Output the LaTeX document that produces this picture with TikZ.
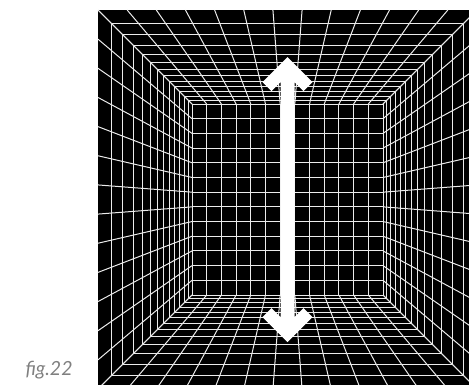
\documentclass[tikz,border=0pt]{standalone}
\usepackage{fontspec}
\setmainfont{Lato}
\usepackage{tikz}
\usetikzlibrary{calc}

\begin{document}
\begin{tikzpicture}[x=1pt, y=-1pt,
    gridline/.style={white!92!black, line width=1pt},
    figlabel/.style={black!50, font=\fontsize{19.5}{22}\selectfont\itshape, anchor=base west}]
    \useasboundingbox (0,0) rectangle (469,384);
    % room centre, front half-size, back half-size
    \def\cx{287.5}
    \def\cy{199.5}
    \def\R{189.5}
    \def\r{95.5}
    \begin{scope}
        \clip (0,0) rectangle (469,384);
        % Black room
        \fill[black] (\cx-\R,\cy-\R) rectangle (\cx+\R,\cy+\R);
        % Back wall grid
        \foreach \i in {0,...,13}
        {
            \draw[gridline] ({\cx-\r+\i*2*\r/13},\cy-\r) -- ({\cx-\r+\i*2*\r/13},\cy+\r);
            \draw[gridline] (\cx-\r,{\cy-\r+\i*2*\r/13}) -- (\cx+\r,{\cy-\r+\i*2*\r/13});
        }
        % Receding lines on walls, ceiling and floor
        \foreach \i in {0,...,13}
        {
            \pgfmathsetmacro\u{-1+2*\i/13}
            \draw[gridline] (\cx-\R,{\cy+\u*\R}) -- (\cx-\r,{\cy+\u*\r});
            \draw[gridline] (\cx+\R,{\cy+\u*\R}) -- (\cx+\r,{\cy+\u*\r});
            \draw[gridline] ({\cx+\u*\R},\cy-\R) -- ({\cx+\u*\r},\cy-\r);
            \draw[gridline] ({\cx+\u*\R},\cy+\R) -- ({\cx+\u*\r},\cy+\r);
        }
        % Depth rings (equal steps in depth)
        \foreach \j in {1,...,12}
        {
            \pgfmathsetmacro\s{\R/(1+(\R/\r-1)*\j/13)}
            \draw[gridline] (\cx-\s,\cy-\s) rectangle (\cx+\s,\cy+\s);
        }
    \end{scope}

    % Double arrow
    \fill[white] (\cx,57) -- (\cx+25,82) -- (\cx+16,91) -- (\cx+7,82)
        -- (\cx+7,317) -- (\cx+16,308) -- (\cx+25,317) -- (\cx,342)
        -- (\cx-25,317) -- (\cx-16,308) -- (\cx-7,317)
        -- (\cx-7,82) -- (\cx-16,91) -- (\cx-25,82) -- cycle;

    \node[figlabel] (fig) at (22,375) {fig.22};
\end{tikzpicture}
\end{document}
